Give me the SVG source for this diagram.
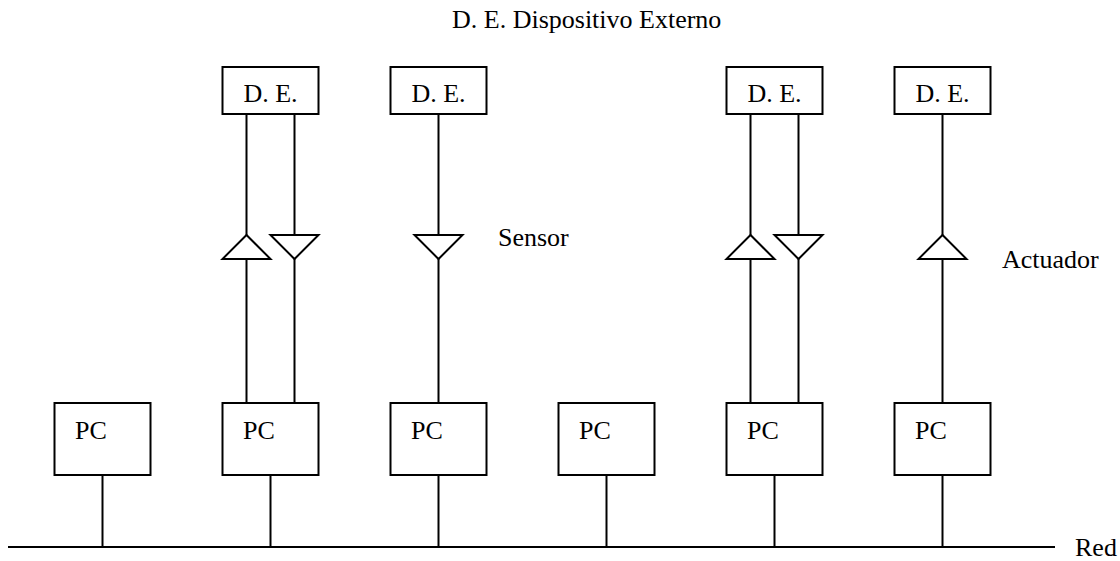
<svg xmlns="http://www.w3.org/2000/svg" width="1120" height="561" viewBox="0 0 1120 561">
  <style>
    .box { fill: #ffffff; stroke: #000000; stroke-width: 2; }
    .wire { fill: none; stroke: #000000; stroke-width: 2; }
    .tri { fill: #ffffff; stroke: #000000; stroke-width: 2; stroke-linejoin: miter; }
    .lbl { font-family: "Liberation Serif", "Times New Roman", serif; font-size: 26px; fill: #000000; }
  </style>
  <defs>
    <!-- triangle glyphs centred on the wire, 48 wide, 24 tall -->
    <polygon id="triUp" class="tri" points="0,0 -24,24 24,24"/>
    <polygon id="triDown" class="tri" points="-24,0 24,0 0,24"/>
  </defs>

  <rect width="1120" height="561" fill="#ffffff"/>

  <text class="lbl" x="452" y="28">D. E. Dispositivo Externo</text>

  <!-- connectors: network bus, stubs and device links -->
  <g id="connectors">
    <line class="wire" x1="8" y1="547" x2="1055" y2="547"/>
    <line class="wire" x1="102.5" y1="475" x2="102.5" y2="547"/>
    <line class="wire" x1="270.5" y1="475" x2="270.5" y2="547"/>
    <line class="wire" x1="438.5" y1="475" x2="438.5" y2="547"/>
    <line class="wire" x1="606.5" y1="475" x2="606.5" y2="547"/>
    <line class="wire" x1="774.5" y1="475" x2="774.5" y2="547"/>
    <line class="wire" x1="942.5" y1="475" x2="942.5" y2="547"/>

    <line class="wire" x1="246.5" y1="114" x2="246.5" y2="403"/>
    <line class="wire" x1="294.5" y1="114" x2="294.5" y2="403"/>
    <line class="wire" x1="438.5" y1="114" x2="438.5" y2="403"/>
    <line class="wire" x1="750.5" y1="114" x2="750.5" y2="403"/>
    <line class="wire" x1="798.5" y1="114" x2="798.5" y2="403"/>
    <line class="wire" x1="942.5" y1="114" x2="942.5" y2="403"/>

    <use href="#triUp" x="246.5" y="235"/>
    <use href="#triDown" x="294.5" y="235"/>
    <use href="#triDown" x="438.5" y="235"/>
    <use href="#triUp" x="750.5" y="235"/>
    <use href="#triDown" x="798.5" y="235"/>
    <use href="#triUp" x="942.5" y="235"/>
  </g>

  <!-- external devices -->
  <g id="de1"><rect class="box" x="222.5" y="67" width="96" height="47"/><text class="lbl" x="270.5" y="102" text-anchor="middle">D. E.</text></g>
  <g id="de2"><rect class="box" x="390.5" y="67" width="96" height="47"/><text class="lbl" x="438.5" y="102" text-anchor="middle">D. E.</text></g>
  <g id="de3"><rect class="box" x="726.5" y="67" width="96" height="47"/><text class="lbl" x="774.5" y="102" text-anchor="middle">D. E.</text></g>
  <g id="de4"><rect class="box" x="894.5" y="67" width="96" height="47"/><text class="lbl" x="942.5" y="102" text-anchor="middle">D. E.</text></g>

  <!-- computers on the network -->
  <g id="pc1"><rect class="box" x="54.5" y="403" width="96" height="72"/><text class="lbl" x="75" y="439">PC</text></g>
  <g id="pc2"><rect class="box" x="222.5" y="403" width="96" height="72"/><text class="lbl" x="243" y="439">PC</text></g>
  <g id="pc3"><rect class="box" x="390.5" y="403" width="96" height="72"/><text class="lbl" x="411" y="439">PC</text></g>
  <g id="pc4"><rect class="box" x="558.5" y="403" width="96" height="72"/><text class="lbl" x="579" y="439">PC</text></g>
  <g id="pc5"><rect class="box" x="726.5" y="403" width="96" height="72"/><text class="lbl" x="747" y="439">PC</text></g>
  <g id="pc6"><rect class="box" x="894.5" y="403" width="96" height="72"/><text class="lbl" x="915" y="439">PC</text></g>

  <text class="lbl" x="498" y="246">Sensor</text>
  <text class="lbl" x="1002" y="268">Actuador</text>
  <text class="lbl" x="1075" y="556">Red</text>
</svg>
